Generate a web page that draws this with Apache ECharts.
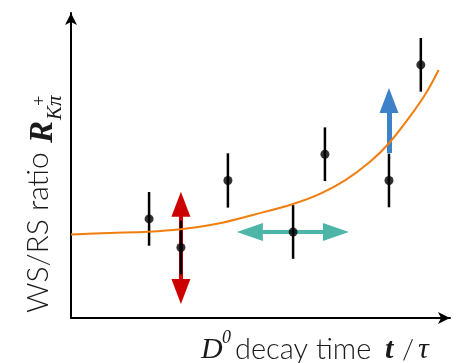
<!DOCTYPE html>
<html>
<head>
<meta charset="utf-8">
<script src="https://cdn.jsdelivr.net/npm/echarts@6/dist/echarts.min.js"></script>
<style>html,body{margin:0;padding:0;background:#fff}#c{width:456px;height:363px}</style>
</head>
<body>
<div id="c"></div>
<script>
const pointX = [2.06, 2.90, 4.14, 5.86, 6.70, 8.39, 9.23];
const pointY = [3.25, 2.31, 4.51, 2.82, 5.37, 4.51, 8.30];
const errLow = [2.37, 1.43, 3.62, 1.94, 4.49, 3.63, 7.42];
const errHigh = [4.13, 3.19, 5.40, 3.70, 6.25, 5.39, 9.18];
// fitted curve
const curveX = [0, 1.02, 2.03, 2.88, 3.85, 4.80, 5.86, 6.57, 7.23, 7.89, 8.39, 8.94, 9.39, 9.70];
const curveY = [2.74, 2.79, 2.83, 2.91, 3.09, 3.38, 3.74, 4.07, 4.51, 5.12, 5.73, 6.60, 7.42, 8.13];
// annotation arrows [x1, y1, x2, y2]
const redArrow = [2.90, 3.73, 2.90, 0.87];
const tealArrow = [4.72, 2.82, 6.99, 2.82];
const blueArrow = [8.39, 5.41, 8.39, 7.13];

const chart = echarts.init(document.getElementById('c'), null, {renderer: 'canvas'});
const axisCommon = {
  type: 'value', min: 0, max: 10,
  axisLine: {show: true, onZero: true, symbol: ['none', 'arrow'], symbolSize: [9, 12],
    lineStyle: {color: '#000', width: 2}},
  axisTick: {show: false}, axisLabel: {show: false}, splitLine: {show: false}
};
function arrowSeries(a, color, width, syms, size) {
  return {
    type: 'lines', coordinateSystem: 'cartesian2d', silent: true,
    symbol: syms, symbolSize: [size, size],
    lineStyle: {color: color, width: width, opacity: 1, curveness: 0},
    data: [{coords: [[a[0], a[1]], [a[2], a[3]]]}]
  };
}
const sans = 'Lato, "Open Sans", sans-serif';
const serif = '"Liberation Serif", "DejaVu Serif", serif';
function txt(x, y, text, font) {
  return {type: 'text', x: x, y: y, style: {text: text, font: font, fill: '#1a1a1a',
    align: 'left', verticalAlign: 'middle', textAlign: 'left', textVerticalAlign: 'middle'}};
}
chart.setOption({
  animation: false,
  grid: {left: 71, right: 6, top: 13, bottom: 45},
  xAxis: Object.assign({}, axisCommon),
  yAxis: Object.assign({}, axisCommon),
  series: [
    arrowSeries(redArrow, '#cc0000', 4, ['triangle', 'triangle'], [19, 25]),
    arrowSeries(tealArrow, '#4db6a9', 4, ['triangle', 'triangle'], [18, 26]),
    arrowSeries(blueArrow, '#3d82c9', 5, ['none', 'triangle'], [19, 25]),
    {type: 'line', data: curveX.map((x, i) => [x, curveY[i]]), smooth: 0.35,
     showSymbol: false, lineStyle: {color: '#f07d0e', width: 2}, silent: true},
    {type: 'custom', silent: true,
     data: pointX.map((x, i) => [x, errLow[i], errHigh[i]]),
     renderItem: function (params, api) {
       const p1 = api.coord([api.value(0), api.value(1)]);
       const p2 = api.coord([api.value(0), api.value(2)]);
       return {type: 'line', shape: {x1: p1[0], y1: p1[1], x2: p2[0], y2: p2[1]},
               style: {stroke: '#000', lineWidth: 2.5}};
     }},
    {type: 'scatter', data: pointX.map((x, i) => [x, pointY[i]]), symbolSize: 9,
     itemStyle: {color: '#000'}, silent: true}
  ],
  graphic: [
    {type: 'group', x: 38, y: 313, rotation: Math.PI / 2, children: [
      txt(0, 0, 'WS/RS ratio', '300 30px ' + sans),
      txt(170, 5, 'R', 'italic bold 33px ' + serif),
      txt(193, 17, 'Kπ', 'italic 21px ' + serif),
      txt(206, 2, '+', 'italic 18px ' + serif)
    ]},
    {type: 'group', x: 0, y: 0, children: [
      txt(201, 350, 'D', 'italic 30px ' + serif),
      txt(222, 338, '0', 'italic 18px ' + serif),
      txt(235, 350, 'decay time', '300 29px ' + sans),
      txt(385, 350, 't', 'italic bold 30px ' + serif),
      txt(402, 350, '/', '300 28px ' + sans),
      txt(418, 350, 'τ', 'italic 30px ' + serif)
    ]}
  ]
});
</script>
</body>
</html>
